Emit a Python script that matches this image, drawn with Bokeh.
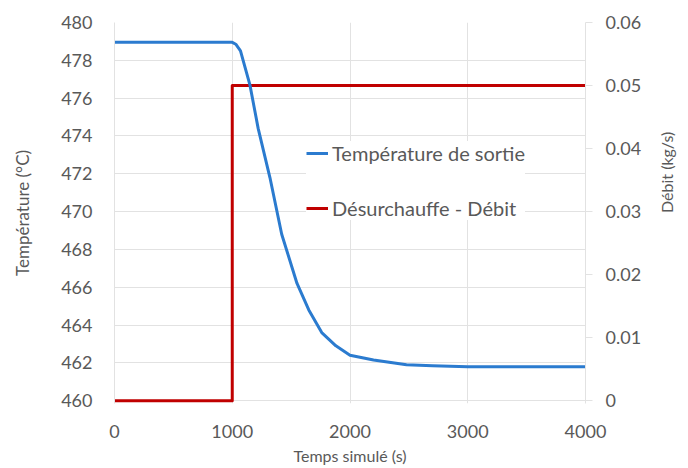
import math
from bokeh.plotting import figure
from bokeh.models import Range1d, LinearAxis, FixedTicker, Legend, LegendItem
from bokeh.embed import file_html
from bokeh.resources import INLINE

# Data
time_temp = [0, 1000, 1030, 1070, 1110, 1150, 1220, 1320, 1420, 1550, 1650, 1760, 1880, 2000, 2200, 2480, 2700, 3000, 3500, 4000]
temp_out = [478.95, 478.95, 478.85, 478.5, 477.6, 476.7, 474.4, 471.8, 468.8, 466.2, 464.8, 463.6, 462.9, 462.4, 462.15, 461.9, 461.85, 461.8, 461.8, 461.8]
time_flow = [0, 1000, 1000, 4000]
flow = [0, 0, 0.05, 0.05]

x_ticks = [0, 1000, 2000, 3000, 4000]
y_ticks = [460, 462, 464, 466, 468, 470, 472, 474, 476, 478, 480]
y2_ticks = [0, 0.01, 0.02, 0.03, 0.04, 0.05, 0.06]
y2_labels = ["0", "0.01", "0.02", "0.03", "0.04", "0.05", "0.06"]

FONT = "Lato"
TXT = "#595959"
GRID = "#e2e2e2"

# a small pad below the axes minimum so the line at the minimum is not clipped
pad = 0.0075
p = figure(width=688, height=468, output_backend="svg", toolbar_location=None,
           x_range=Range1d(0, 4000), y_range=Range1d(460 - 20 * pad, 480),
           min_border_left=114, min_border_right=102, min_border_top=22, min_border_bottom=65)
p.outline_line_color = None
p.background_fill_color = "white"
p.border_fill_color = "white"

p.extra_y_ranges = {"flow": Range1d(0 - 0.06 * pad, 0.06)}

# Grid
p.xgrid.ticker = FixedTicker(ticks=x_ticks)
p.ygrid.ticker = FixedTicker(ticks=y_ticks)
p.xgrid.grid_line_color = GRID
p.ygrid.grid_line_color = GRID

# Bottom axis
xa = p.xaxis[0]
xa.ticker = FixedTicker(ticks=x_ticks)
xa.axis_label = "Temps simulé (s)"
xa.axis_line_color = None
xa.major_tick_line_color = None
xa.minor_tick_line_color = None
xa.major_tick_out = 0
xa.major_tick_in = 0
xa.major_label_standoff = 21
xa.axis_label_standoff = 5

# Left axis
ya = p.yaxis[0]
ya.ticker = FixedTicker(ticks=y_ticks)
ya.axis_label = "Température (°C)"
ya.axis_line_color = GRID
ya.major_tick_line_color = None
ya.minor_tick_line_color = None
ya.major_tick_out = 0
ya.major_tick_in = 0
ya.major_label_standoff = 22
ya.axis_label_standoff = 25

# Right axis
ya2 = LinearAxis(y_range_name="flow", axis_label="Débit (kg/s)")
ya2.ticker = FixedTicker(ticks=y2_ticks)
ya2.major_label_overrides = {v: s for v, s in zip(y2_ticks, y2_labels)}
ya2.axis_line_color = GRID
ya2.major_tick_line_color = GRID
ya2.major_tick_out = 7
ya2.major_tick_in = 0
ya2.minor_tick_line_color = None
ya2.major_label_standoff = 13
ya2.axis_label_standoff = 22
ya2.axis_label_orientation = math.pi / 2
p.add_layout(ya2, "right")

for ax in [xa, ya, ya2]:
    ax.major_label_text_font = FONT
    ax.major_label_text_font_size = "18px"
    ax.major_label_text_color = TXT
    ax.axis_label_text_font = FONT
    ax.axis_label_text_font_size = "17px"
    ax.axis_label_text_font_style = "normal"
    ax.axis_label_text_color = TXT
xa.axis_label_text_font_size = "16px"
ya2.axis_label_text_font_size = "16px"

# Lines
r_flow = p.line(time_flow, flow, y_range_name="flow", line_color="#c00000", line_width=3, line_join="round")
r_temp = p.line(time_temp, temp_out, line_color="#2b7bcf", line_width=3, line_join="round")

legend = Legend(items=[LegendItem(label="Température de sortie", renderers=[r_temp]),
                       LegendItem(label="Désurchauffe - Débit", renderers=[r_flow])],
                location=(192, 183))
legend.label_text_font = FONT
legend.label_text_font_size = "20px"
legend.label_text_color = TXT
legend.border_line_color = None
legend.background_fill_color = "white"
legend.background_fill_alpha = 1
legend.padding = 4
legend.margin = 0
legend.spacing = 31
legend.glyph_width = 22
legend.label_standoff = 4
p.add_layout(legend, "center")

open("out.html", "w").write(file_html(p, INLINE))
